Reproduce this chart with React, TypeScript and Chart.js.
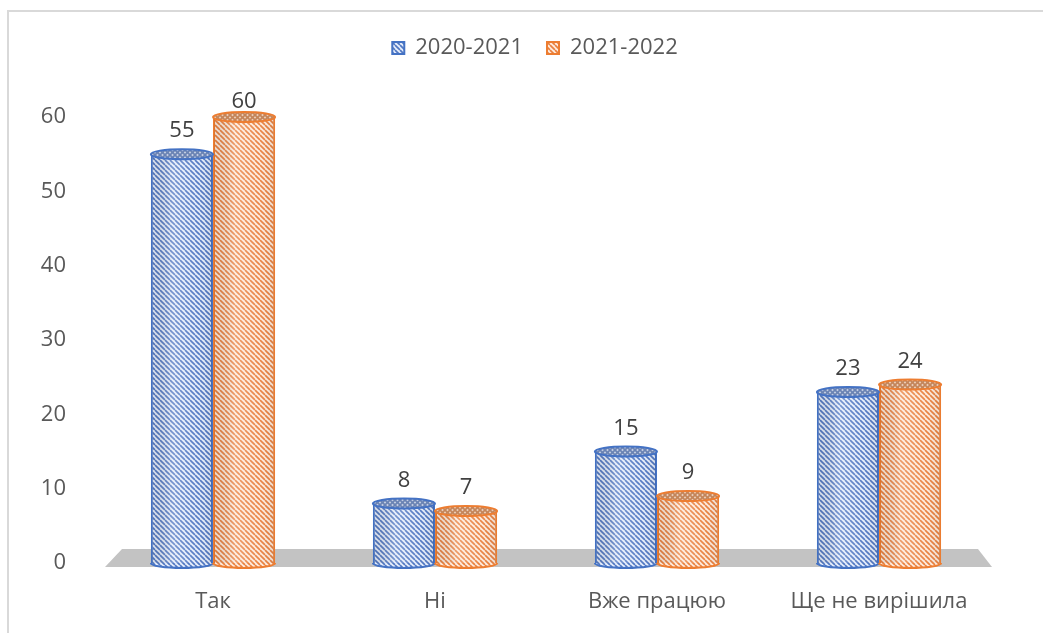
import React, { useEffect, useRef } from 'react';
import { Chart, registerables } from 'chart.js';

Chart.register(...registerables);

const categories = ['Так', 'Ні', 'Вже працюю', 'Ще не вирішила'];
const series2020 = [55, 8, 15, 23];
const series2021 = [60, 7, 9, 24];
const seriesLabels = ['2020-2021', '2021-2022'];
const yTickValues = [0, 10, 20, 30, 40, 50, 60];

const FONT = "'Open Sans', 'Liberation Sans', sans-serif";
const FS = 22;

function makePattern(ctx: CanvasRenderingContext2D, bg: string, stripe: string, cross: boolean) {
  const s = 5;
  const c = document.createElement('canvas');
  c.width = s;
  c.height = s;
  const g = c.getContext('2d')!;
  g.fillStyle = bg;
  g.fillRect(0, 0, s, s);
  g.strokeStyle = stripe;
  g.lineWidth = 1.7;
  for (const o of [-s, 0, s]) {
    g.beginPath();
    g.moveTo(o, 0);
    g.lineTo(o + s, s);
    g.stroke();
  }
  if (cross) {
    for (const o of [-s, 0, s]) {
      g.beginPath();
      g.moveTo(o + s, 0);
      g.lineTo(o, s);
      g.stroke();
    }
  }
  return ctx.createPattern(c, 'repeat') as CanvasPattern;
}

export default function App() {
  const ref = useRef<HTMLCanvasElement | null>(null);

  useEffect(() => {
    const canvas = ref.current!;
    const ctx = canvas.getContext('2d')!;
    const blueBody = makePattern(ctx, '#e4ecfa', '#5077c2', false);
    const orangeBody = makePattern(ctx, '#fdeadc', '#e9803e', false);
    const blueTop = makePattern(ctx, '#c6d0e4', '#6a83b4', true);
    const orangeTop = makePattern(ctx, '#eccfbb', '#c4855a', true);
    const tops = [blueTop, orangeTop];
    const bodies = [blueBody, orangeBody];
    const borders = ['#4472c4', '#ed7d31'];

    const floorPlugin = {
      id: 'floor',
      beforeDatasetsDraw(chart: any) {
        const { ctx: c, chartArea, scales } = chart;
        const b = scales.y.getPixelForValue(0);
        c.save();
        c.fillStyle = '#c3c3c3';
        c.beginPath();
        c.moveTo(chartArea.left + 20, b - 14);
        c.lineTo(chartArea.right - 12, b - 14);
        c.lineTo(chartArea.right + 2, b + 4);
        c.lineTo(chartArea.left + 3, b + 4);
        c.closePath();
        c.fill();
        c.restore();
      },
    };

    const cylinderPlugin = {
      id: 'cylinder',
      afterDatasetsDraw(chart: any) {
        const c: CanvasRenderingContext2D = chart.ctx;
        const ry = 5;
        const topLimit = chart.chartArea.top - 15;
        chart.data.datasets.forEach((ds: any, di: number) => {
          const meta = chart.getDatasetMeta(di);
          meta.data.forEach((el: any, i: number) => {
            const { x, y, base, width } = el.getProps(['x', 'y', 'base', 'width'], true);
            const rx = width / 2;
            c.save();
            const grad = c.createLinearGradient(x - rx, 0, x + rx, 0);
            grad.addColorStop(0, 'rgba(0,0,0,0.06)');
            grad.addColorStop(0.35, 'rgba(255,255,255,0.22)');
            grad.addColorStop(0.75, 'rgba(255,255,255,0.04)');
            grad.addColorStop(1, 'rgba(0,0,0,0.08)');
            c.fillStyle = grad;
            c.fillRect(x - rx + 1, y, width - 2, base - y);
            c.beginPath();
            c.ellipse(x, base, rx, ry, 0, 0, Math.PI);
            c.closePath();
            c.fillStyle = bodies[di];
            c.fill();
            c.beginPath();
            c.ellipse(x, base, rx, ry, 0, 0, Math.PI);
            c.strokeStyle = borders[di];
            c.lineWidth = 2;
            c.stroke();
            c.beginPath();
            c.ellipse(x, y, rx, ry, 0, 0, Math.PI * 2);
            c.fillStyle = tops[di];
            c.fill();
            c.strokeStyle = borders[di];
            c.lineWidth = 2;
            c.stroke();
            c.fillStyle = '#404040';
            c.font = `${FS}px ${FONT}`;
            c.textAlign = 'center';
            c.textBaseline = 'middle';
            c.fillText(String(ds.data[i]), x, Math.max(y - 23, topLimit));
            c.restore();
          });
        });
      },
    };

    const legendSpace = {
      id: 'legendSpace',
      beforeInit(chart: any) {
        const legend = chart.legend;
        if (!legend) return;
        const orig = legend.fit;
        legend.fit = function () {
          orig.call(this);
          this.height += 49;
        };
      },
      afterLayout(chart: any) {
        const legend = chart.legend;
        if (!legend) return;
        legend.left += 40;
        legend.right += 40;
        legend.top += 1;
        legend.bottom += 1;
      },
    };

    const chart = new Chart(canvas, {
      type: 'bar',
      data: {
        labels: categories,
        datasets: [
          {
            label: seriesLabels[0],
            data: series2020,
            backgroundColor: blueBody,
            borderColor: borders[0],
            borderWidth: 2,
            borderSkipped: 'start',
            categoryPercentage: 0.56,
            barPercentage: 1.0,
          },
          {
            label: seriesLabels[1],
            data: series2021,
            backgroundColor: orangeBody,
            borderColor: borders[1],
            borderWidth: 2,
            borderSkipped: 'start',
            categoryPercentage: 0.56,
            barPercentage: 1.0,
          },
        ],
      },
      options: {
        animation: false,
        responsive: false,
        maintainAspectRatio: false,
        layout: { padding: { top: 12, right: 53, left: 0, bottom: 0 } },
        plugins: {
          legend: {
            display: true,
            position: 'top',
            labels: {
              boxWidth: 12,
              boxHeight: 12,
              padding: 24,
              color: '#595959',
              font: { family: FONT, size: FS },
            },
          },
          tooltip: { enabled: false },
        },
        scales: {
          x: {
            grid: { display: false },
            border: { display: false },
            ticks: { color: '#595959', font: { family: FONT, size: FS }, padding: 18 },
            afterFit(scale: any) {
              scale.height = 70;
            },
          },
          y: {
            min: 0,
            max: 60,
            grid: { display: false },
            border: { display: false },
            afterBuildTicks(scale: any) {
              scale.ticks = yTickValues.map((v) => ({ value: v }));
            },
            ticks: { color: '#595959', font: { family: FONT, size: FS }, padding: 28 },
            afterFit(scale: any) {
              scale.width = 102;
            },
          },
        },
      },
      plugins: [legendSpace, floorPlugin, cylinderPlugin],
    });

    return () => chart.destroy();
  }, []);

  return (
    <div style={{ position: 'absolute', left: 0, top: 0, width: 1043, height: 633, overflow: 'hidden', background: '#fff' }}>
      <div
        style={{
          position: 'absolute',
          left: 7,
          top: 10,
          width: 1100,
          height: 700,
          border: '2px solid #d9d9d9',
          boxSizing: 'border-box',
        }}
      />
      <canvas ref={ref} width={1043} height={633} style={{ position: 'absolute', left: 0, top: 0 }} />
    </div>
  );
}
